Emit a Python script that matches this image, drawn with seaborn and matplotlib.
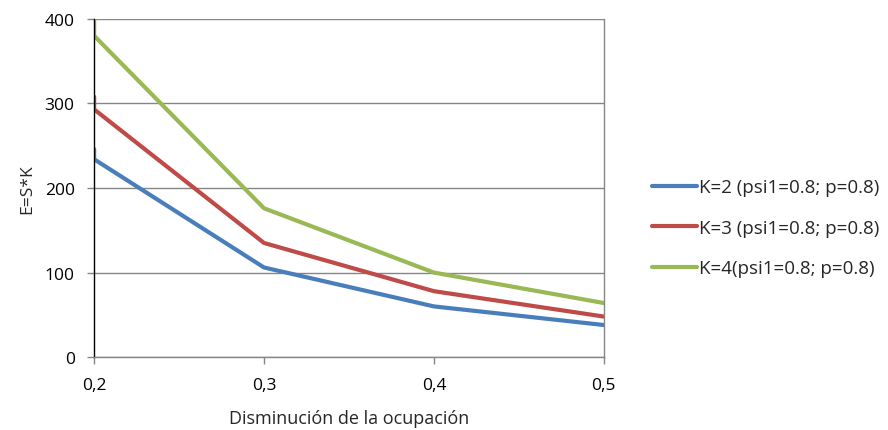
import matplotlib
matplotlib.use("Agg")
import matplotlib.pyplot as plt
import seaborn as sns
import pandas as pd

x_vals = [0.2, 0.2, 0.3, 0.4, 0.5]
k2 = [246, 234, 106, 60, 38]
k3 = [308, 293, 135, 78, 48]
k4 = [400, 380, 176, 100, 64]
labels = ["K=2 (psi1=0.8; p=0.8)", "K=3 (psi1=0.8; p=0.8)", "K=4(psi1=0.8; p=0.8)"]
colors = ["#4A7EBB", "#BE4B48", "#98B954"]
x_ticks = [0.2, 0.3, 0.4, 0.5]
x_ticklabels = ["0,2", "0,3", "0,4", "0,5"]
y_ticks = [0, 100, 200, 300, 400]

rows = []
for lab, vals in zip(labels, [k2, k3, k4]):
    for i, (x, y) in enumerate(zip(x_vals, vals)):
        rows.append({"x": x, "y": y, "serie": lab, "order": i})
df = pd.DataFrame(rows)

sns.set_style("white")
plt.rcParams['font.family'] = ['Open Sans', 'DejaVu Sans']

fig = plt.figure(figsize=(8.88, 4.31), dpi=100)
ax = fig.add_axes([0.106, 0.169, 0.574, 0.785])

sns.lineplot(data=df, x="x", y="y", hue="serie", palette=colors, estimator=None,
             sort=False, linewidth=3, ax=ax, legend=True)

ax.set_xlim(0.2, 0.5)
ax.set_ylim(0, 400)
ax.set_xticks(x_ticks)
ax.set_xticklabels(x_ticklabels)
ax.set_yticks(y_ticks)
ax.yaxis.grid(True, color="#868686", linewidth=1)
ax.xaxis.grid(False)
ax.set_axisbelow(True)
ax.spines["top"].set_visible(False)
ax.spines["right"].set_color("#868686")
ax.spines["bottom"].set_color("#868686")
ax.spines["left"].set_color("#000000")
for s in ax.spines.values():
    s.set_linewidth(1)
ax.tick_params(axis="both", which="both", direction="out", length=5, width=1,
               color="#868686", labelsize=12.5, labelcolor="#000000", bottom=True, left=True)
ax.tick_params(axis="x", pad=9)
ax.tick_params(axis="y", pad=9)
ax.set_xlabel("Disminución de la ocupación", fontsize=13, labelpad=12)
ax.set_ylabel("E=S*K", fontsize=12.5, labelpad=7)

h, l = ax.get_legend_handles_labels()
ax.legend(h, l, loc="center left", bbox_to_anchor=(1.095, 0.382), frameon=False,
          fontsize=13.5, handlelength=2.4, handletextpad=0.1, labelspacing=1.2,
          borderaxespad=0, borderpad=0)

fig.savefig("out.png", dpi=100)
